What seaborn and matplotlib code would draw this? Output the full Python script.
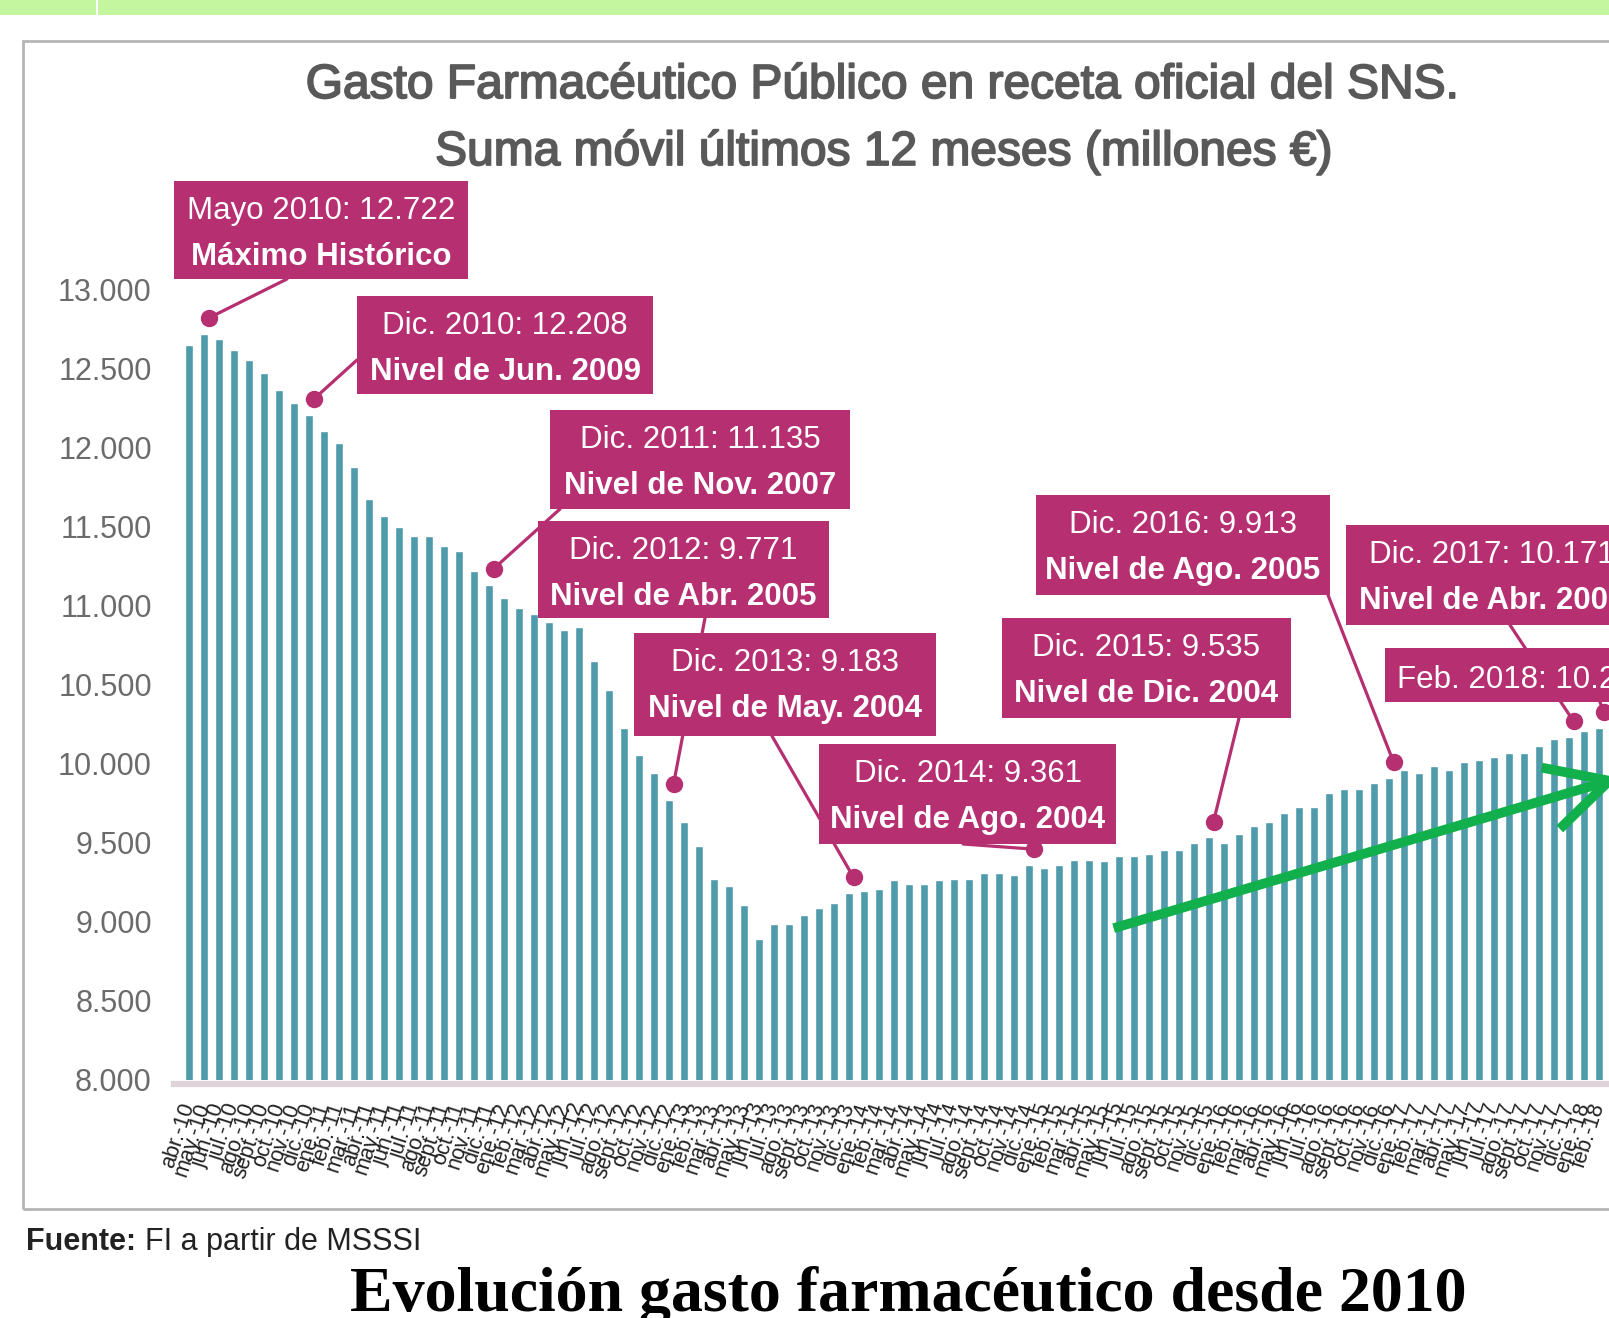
import numpy as np
import pandas as pd
import matplotlib.pyplot as plt
import matplotlib.patheffects as pe
from matplotlib.patches import Rectangle, FancyArrowPatch
import seaborn as sb

W, H = 1609, 1318

# etiquetas mensuales abr-10 ... feb-18
meses = ['ene.', 'feb.', 'mar.', 'abr.', 'may.', 'jun.', 'jul.', 'ago.',
         'sept.', 'oct.', 'nov.', 'dic.']
etiquetas = [f'{meses[(3 + k) % 12]}-{10 + (3 + k) // 12}' for k in range(95)]

# gasto, suma movil 12 meses (millones de euros)
gasto = [12650, 12722, 12690, 12620, 12560, 12475, 12365, 12285, 12208,
         12110, 12030, 11880, 11675, 11570, 11500, 11440, 11440, 11380, 11350, 11220, 11135,
         11050, 10990, 10950, 10900, 10850, 10870, 10650, 10470, 10225, 10060, 9940, 9771,
         9635, 9480, 9275, 9230, 9110, 8890, 8990, 8990, 9045, 9090, 9120, 9183,
         9195, 9210, 9265, 9240, 9240, 9265, 9275, 9275, 9310, 9310, 9300, 9361,
         9340, 9360, 9395, 9395, 9385, 9420, 9420, 9430, 9455, 9455, 9500, 9535,
         9500, 9560, 9605, 9635, 9690, 9730, 9730, 9815, 9840, 9840, 9880, 9913,
         9960, 9940, 9985, 9960, 10010, 10025, 10045, 10070, 10070, 10115, 10160, 10171,
         10210, 10230]

yticks = list(range(8000, 13001, 500))

# anotaciones
ann_idx = [1, 8, 20, 32, 44, 56, 68, 80, 92, 94]
ann_l1 = ['Mayo 2010: 12.722', 'Dic. 2010: 12.208', 'Dic. 2011: 11.135',
          'Dic. 2012: 9.771', 'Dic. 2013: 9.183', 'Dic. 2014: 9.361',
          'Dic. 2015: 9.535', 'Dic. 2016: 9.913', 'Dic. 2017: 10.171',
          'Feb. 2018: 10.226']
ann_l2 = ['Máximo Histórico', 'Nivel de Jun. 2009', 'Nivel de Nov. 2007',
          'Nivel de Abr. 2005', 'Nivel de May. 2004', 'Nivel de Ago. 2004',
          'Nivel de Dic. 2004', 'Nivel de Ago. 2005', 'Nivel de Abr. 2006', '']
# caja (x0, y0, x1, y1) y arranque de la linea, en pixeles desde arriba
ann_box = [(174, 181, 468, 279), (357, 296, 653, 394), (550, 410, 850, 509),
           (538, 521, 829, 618), (634, 633, 936, 736), (819, 744, 1116, 844),
           (1002, 618, 1291, 718), (1036, 495, 1330, 595), (1346, 525, 1638, 625),
           (1385, 648, 1663, 702)]
ann_start = [(287, 279), (357, 360), (560, 509), (705, 618), (772, 736),
             (963, 844), (1239, 718), (1328, 595), (1510, 625), (1600, 702)]

rosa = '#b52f71'
barra = '#4f9bab'


def fx(x):
    return x / W


def fy(y):
    return 1 - y / H


sb.set_style('white')
plt.rcParams['font.family'] = ['Liberation Sans', 'DejaVu Sans']

fig = plt.figure(figsize=(W / 100, H / 100), dpi=100)
ax = fig.add_axes([fx(174), fy(1080), (1689 - 174) / W, (1080 - 211) / H])
ax.patch.set_alpha(0)

df = pd.DataFrame({'mes': etiquetas, 'gasto': gasto})
sb.barplot(data=df, x='mes', y='gasto', color=barra, width=0.5,
           saturation=1, errorbar=None, ax=ax, zorder=2)

ax.set_xlim(-1, 100)
ax.set_ylim(8000, 13500)
ax.set_yticks(yticks)
ax.set_yticklabels([f'{v:,}'.replace(',', '.') for v in yticks])
ax.set_xlabel('')
ax.set_ylabel('')
for s in ['left', 'top', 'right']:
    ax.spines[s].set_visible(False)
ax.spines['bottom'].set_color('#ddd3d8')
ax.spines['bottom'].set_linewidth(4.5)
ax.spines['bottom'].set_position(('outward', 3))
ax.tick_params(axis='y', length=0, pad=16, labelsize=22, labelcolor='#6b6b6b')
ax.tick_params(axis='x', length=0, pad=14, labelsize=15.5, labelcolor='#222222')
for lab in ax.get_xticklabels():
    lab.set_rotation(72)
    lab.set_ha('right')
    lab.set_va('center')
    lab.set_rotation_mode('anchor')

# puntos y lineas de las anotaciones
for i, (sx, sy) in zip(ann_idx, ann_start):
    dot = (i + 0.3, gasto[i] + 100)
    ax.annotate('', xy=dot, xycoords='data', xytext=(fx(sx), fy(sy)),
                textcoords='figure fraction', annotation_clip=False,
                arrowprops=dict(arrowstyle='-', color=rosa, lw=2.3,
                                shrinkA=0, shrinkB=0), zorder=3)
    ax.plot(*dot, 'o', color=rosa, ms=11.5, clip_on=False, zorder=4)

# cajas
for (x0, y0, x1, y1), l1, l2 in zip(ann_box, ann_l1, ann_l2):
    fig.add_artist(Rectangle((fx(x0), fy(y1)), (x1 - x0) / W, (y1 - y0) / H,
                             transform=fig.transFigure, fc=rosa, ec='none', zorder=5))
    xc = fx((x0 + x1) / 2)
    if l2:
        fig.text(xc, fy(y0 + 38), l1, color='white', fontsize=22.5,
                 ha='center', va='baseline', zorder=6)
        fig.text(xc, fy(y0 + 84), l2, color='white', fontsize=22.5,
                 fontweight='bold', ha='center', va='baseline', zorder=6)
    else:
        fig.text(xc, fy(y0 + 40), l1, color='white', fontsize=22.5,
                 ha='center', va='baseline', zorder=6)

# flecha verde
flecha = FancyArrowPatch((fx(1111), fy(929)), (fx(1622), fy(777)),
                         transform=fig.transFigure,
                         arrowstyle='->,head_length=4.4,head_width=2.3',
                         mutation_scale=10, color='#12b04c', lw=7,
                         capstyle='butt', zorder=7)
fig.add_artist(flecha)

# marco, banda superior
fig.add_artist(Rectangle((fx(23), fy(1209)), (1750 - 23) / W, (1209 - 41) / H,
                         transform=fig.transFigure, fill=False, ec='#b5b5b5',
                         lw=2, zorder=1))
fig.add_artist(Rectangle((0, fy(14.5)), 1, 14.5 / H, transform=fig.transFigure,
                         fc='#c4f59f', ec='none', zorder=1))
fig.add_artist(Rectangle((fx(96), fy(14.5)), 2 / W, 14.5 / H,
                         transform=fig.transFigure, fc='white', ec='none', zorder=2))

# titulos
grueso = [pe.withStroke(linewidth=1.3, foreground='#595959')]
fig.text(fx(882), fy(98), 'Gasto Farmacéutico Público en receta oficial del SNS.',
         fontsize=34.5, color='#595959', ha='center', va='baseline',
         path_effects=grueso)
fig.text(fx(884), fy(165), 'Suma móvil últimos 12 meses (millones €)',
         fontsize=34.5, color='#595959', ha='center', va='baseline',
         path_effects=grueso)

fig.text(fx(26), fy(1250), 'Fuente:', fontsize=22, fontweight='bold',
         color='#222222', va='baseline')
fig.text(fx(145), fy(1250), 'FI a partir de MSSSI', fontsize=22,
         color='#222222', va='baseline')
fig.text(fx(908), fy(1311), 'Evolución gasto farmacéutico desde 2010',
         family=['Liberation Serif', 'DejaVu Serif'], fontweight='bold',
         fontsize=46, color='black', ha='center', va='baseline')

fig.savefig('out.png', dpi=100)
